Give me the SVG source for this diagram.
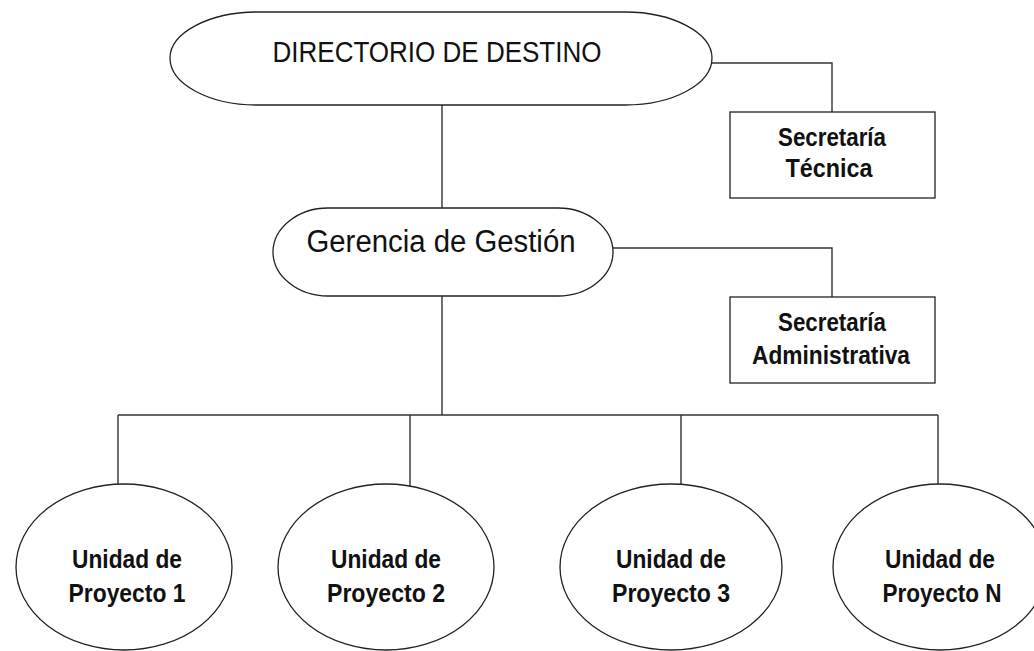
<svg xmlns="http://www.w3.org/2000/svg" width="1034" height="651" viewBox="0 0 1034 651">
<style>
.shape{fill:#fff;stroke:#222;stroke-width:1.3}
.conn{fill:none;stroke:#333;stroke-width:1.4}
.big{font-family:"Liberation Sans Narrow","Liberation Sans",Arial,sans-serif;font-size:30px;fill:#111;text-anchor:middle}
.small{font-family:"Liberation Sans Narrow","Liberation Sans",Arial,sans-serif;font-size:26px;font-weight:bold;fill:#111;text-anchor:middle}
</style>
<rect width="1034" height="651" fill="#fff"/>
<g id="connectors">
<path class="conn" d="M442,105 V208"/>
<path class="conn" d="M712,63 H832 V112"/>
<path class="conn" d="M613,248 H832 V297"/>
<path class="conn" d="M442,296 V415"/>
<path class="conn" d="M118,415 H938"/>
<path class="conn" d="M118,415 V484"/>
<path class="conn" d="M410,415 V486"/>
<path class="conn" d="M681,415 V485"/>
<path class="conn" d="M938,415 V484"/>
</g>
<g id="directorio">
<path class="shape" d="M257,12 H625 C673,12 712,33 712,58 C712,84 673,105 625,105 H257 C209,105 170,84 170,58 C170,33 209,12 257,12 Z"/>
<text class="big" x="437" y="62" textLength="329" lengthAdjust="spacingAndGlyphs">DIRECTORIO DE DESTINO</text>
</g>
<g id="secretaria-tecnica">
<rect class="shape" x="730" y="112" width="205" height="86"/>
<text class="small" x="832" y="146" textLength="108" lengthAdjust="spacingAndGlyphs">Secretaría</text>
<text class="small" x="829" y="177" textLength="87" lengthAdjust="spacingAndGlyphs">Técnica</text>
</g>
<g id="gerencia">
<path class="shape" d="M328,208 H558 C588,208 613,228 613,252 C613,276 588,296 558,296 H328 C298,296 273,276 273,252 C273,228 298,208 328,208 Z"/>
<text class="big" x="441" y="252" style="font-size:31px" textLength="269" lengthAdjust="spacingAndGlyphs">Gerencia de Gestión</text>
</g>
<g id="secretaria-administrativa">
<rect class="shape" x="730" y="297" width="205" height="86"/>
<text class="small" x="832" y="331" textLength="108" lengthAdjust="spacingAndGlyphs">Secretaría</text>
<text class="small" x="831" y="364" textLength="158" lengthAdjust="spacingAndGlyphs">Administrativa</text>
</g>
<g id="unidad-1">
<ellipse class="shape" cx="124" cy="567" rx="108" ry="83"/>
<text class="small" x="127" y="568" textLength="110" lengthAdjust="spacingAndGlyphs">Unidad de</text>
<text class="small" x="127" y="602" textLength="117" lengthAdjust="spacingAndGlyphs">Proyecto 1</text>
</g>
<g id="unidad-2">
<ellipse class="shape" cx="386" cy="567" rx="108" ry="83"/>
<text class="small" x="386" y="568" textLength="110" lengthAdjust="spacingAndGlyphs">Unidad de</text>
<text class="small" x="386" y="602" textLength="118" lengthAdjust="spacingAndGlyphs">Proyecto 2</text>
</g>
<g id="unidad-3">
<ellipse class="shape" cx="671" cy="567" rx="111" ry="83"/>
<text class="small" x="671" y="568" textLength="110" lengthAdjust="spacingAndGlyphs">Unidad de</text>
<text class="small" x="671" y="602" textLength="118" lengthAdjust="spacingAndGlyphs">Proyecto 3</text>
</g>
<g id="unidad-n">
<ellipse class="shape" cx="940" cy="567" rx="107" ry="83"/>
<text class="small" x="940" y="568" textLength="110" lengthAdjust="spacingAndGlyphs">Unidad de</text>
<text class="small" x="942" y="602" textLength="119" lengthAdjust="spacingAndGlyphs">Proyecto N</text>
</g>
</svg>
